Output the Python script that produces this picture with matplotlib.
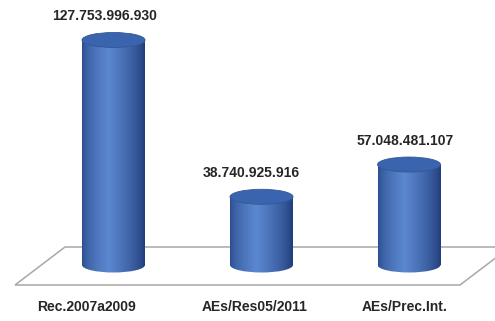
import numpy as np
import matplotlib
matplotlib.use("Agg")
import matplotlib.pyplot as plt
from matplotlib.patches import Ellipse, Rectangle, Polygon

categories = ["Rec.2007a2009", "AEs/Res05/2011", "AEs/Prec.Int."]
values = [127753996930, 38740925916, 57048481107]
value_labels = [f"{v:,}".replace(",", ".") for v in values]

W, H = 495, 321
fig = plt.figure(figsize=(W / 100, H / 100), dpi=100)
ax = fig.add_axes([0, 0, 1, 1])

# vertical scale: pixels of height for the tallest bar
base_px = 265.0
tall_px = 225.0
s = max(values) / tall_px          # value units per pixel


def vy(px):
    """convert a pixel row (from top) into value units"""
    return (base_px - px) * s


ax.set_xlim(0, W)
ax.set_ylim(vy(H), vy(0))
ax.axis("off")

# floor plane
floor = Polygon([(15, vy(285)), (65, vy(247)), (510, vy(247)), (460, vy(285))],
                closed=True, facecolor="white", edgecolor="#a8a8a8", lw=1.1, zorder=1)
ax.add_patch(floor)

# horizontal shading profile of the cylinder body
t = np.linspace(0, 1, 200)[:, None]
light = np.array([92, 136, 208]) / 255
dark_l = np.array([40, 74, 140]) / 255
dark_r = np.array([30, 58, 120]) / 255
wl = np.clip(t / 0.42, 0, 1) ** 0.6
wr = np.clip((1 - t) / 0.58, 0, 1) ** 0.7
prof = np.where(t < 0.42, wl * light + (1 - wl) * dark_l, wr * light + (1 - wr) * dark_r)
grad = np.tile(prof[None, :, :], (4, 1, 1))

centers = [113.5, 261.5, 409.0]
half_w = 31.5
ell_h = 15.0 * s
label_dx = [-9, -10, -4]
cat_x = [87, 255, 405]
font = ["Liberation Sans", "DejaVu Sans"]

for i, v in enumerate(values):
    cx = centers[i]
    x0, x1 = cx - half_w, cx + half_w
    # body rectangle + bottom cap
    rect = Rectangle((x0, 0), x1 - x0, v, facecolor="none", edgecolor="none", zorder=2)
    bot = Ellipse((cx, 0), x1 - x0, ell_h, facecolor="none", edgecolor="none", zorder=2)
    ax.add_patch(rect)
    ax.add_patch(bot)
    for clip in (rect, bot):
        im = ax.imshow(grad, extent=(x0, x1, -ell_h, v), aspect="auto",
                       interpolation="bilinear", zorder=3)
        im.set_clip_path(clip)
    # top cap
    top = Ellipse((cx, v), x1 - x0, ell_h, facecolor="#3b64ae",
                  edgecolor="#33589a", lw=0.6, zorder=4)
    ax.add_patch(top)
    # value label
    ax.text(cx + label_dx[i], v + ell_h / 2 + 16.5 * s, value_labels[i],
            ha="center", va="center", fontsize=10, fontweight="bold",
            family=font, color="#262626", zorder=5)
    # category label
    ax.text(cat_x[i], vy(307), categories[i], ha="center", va="center",
            fontsize=10, fontweight="bold", family=font, color="#262626", zorder=5)

ax.set_xlim(0, W)
ax.set_ylim(vy(H), vy(0))
fig.savefig("out.png", dpi=100, facecolor="white")
